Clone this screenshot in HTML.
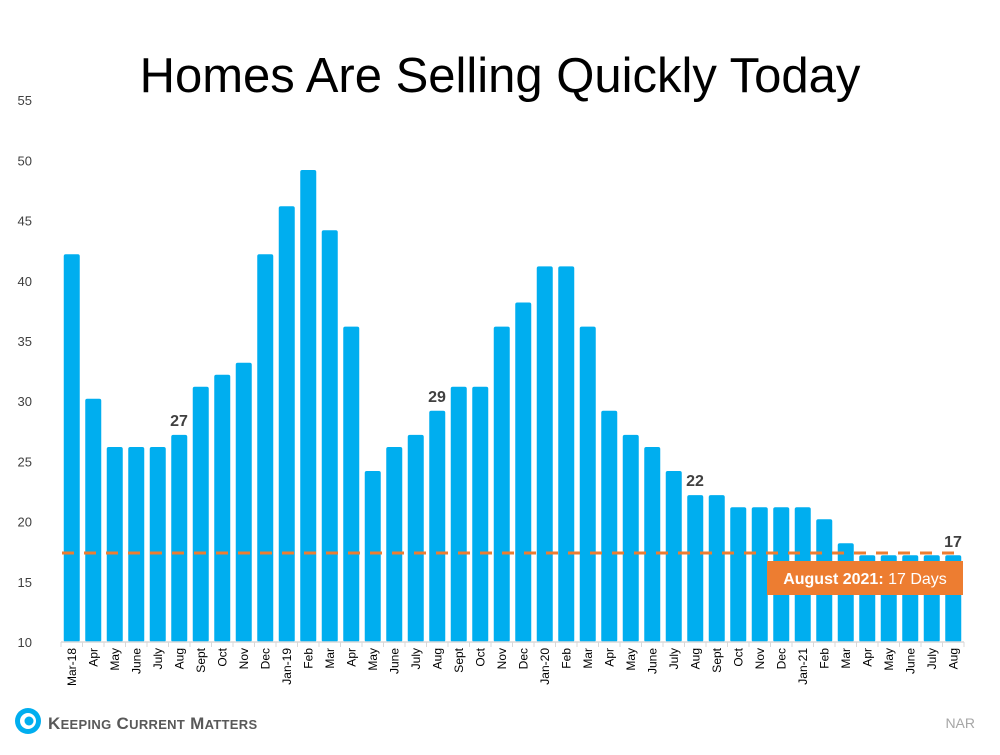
<!DOCTYPE html>
<html><head><meta charset="utf-8"><style>
body{margin:0;background:#fff;}
svg text{font-family:"Liberation Sans",sans-serif;}
</style></head><body>
<svg width="1000" height="750" viewBox="0 0 1000 750" xmlns="http://www.w3.org/2000/svg">
<text x="500" y="92" font-size="49" text-anchor="middle" fill="#000">Homes Are Selling Quickly Today</text>
<g font-size="13" fill="#404040" text-anchor="end" id="yl"></g>
<g fill="#00AEEF">
<rect x="63.75" y="254.3" width="16" height="387.7" rx="2"/>
<rect x="85.25" y="398.8" width="16" height="243.2" rx="2"/>
<rect x="106.75" y="447" width="16" height="195" rx="2"/>
<rect x="128.25" y="447" width="16" height="195" rx="2"/>
<rect x="149.75" y="447" width="16" height="195" rx="2"/>
<rect x="171.25" y="434.9" width="16" height="207.1" rx="2"/>
<rect x="192.75" y="386.8" width="16" height="255.2" rx="2"/>
<rect x="214.25" y="374.7" width="16" height="267.3" rx="2"/>
<rect x="235.75" y="362.7" width="16" height="279.3" rx="2"/>
<rect x="257.25" y="254.3" width="16" height="387.7" rx="2"/>
<rect x="278.75" y="206.2" width="16" height="435.8" rx="2"/>
<rect x="300.25" y="170" width="16" height="472" rx="2"/>
<rect x="321.75" y="230.2" width="16" height="411.8" rx="2"/>
<rect x="343.25" y="326.6" width="16" height="315.4" rx="2"/>
<rect x="364.75" y="471" width="16" height="171" rx="2"/>
<rect x="386.25" y="447" width="16" height="195" rx="2"/>
<rect x="407.75" y="434.9" width="16" height="207.1" rx="2"/>
<rect x="429.25" y="410.8" width="16" height="231.2" rx="2"/>
<rect x="450.75" y="386.8" width="16" height="255.2" rx="2"/>
<rect x="472.25" y="386.8" width="16" height="255.2" rx="2"/>
<rect x="493.75" y="326.6" width="16" height="315.4" rx="2"/>
<rect x="515.25" y="302.5" width="16" height="339.5" rx="2"/>
<rect x="536.75" y="266.4" width="16" height="375.6" rx="2"/>
<rect x="558.25" y="266.4" width="16" height="375.6" rx="2"/>
<rect x="579.75" y="326.6" width="16" height="315.4" rx="2"/>
<rect x="601.25" y="410.8" width="16" height="231.2" rx="2"/>
<rect x="622.75" y="434.9" width="16" height="207.1" rx="2"/>
<rect x="644.25" y="447" width="16" height="195" rx="2"/>
<rect x="665.75" y="471" width="16" height="171" rx="2"/>
<rect x="687.25" y="495.1" width="16" height="146.9" rx="2"/>
<rect x="708.75" y="495.1" width="16" height="146.9" rx="2"/>
<rect x="730.25" y="507.2" width="16" height="134.8" rx="2"/>
<rect x="751.75" y="507.2" width="16" height="134.8" rx="2"/>
<rect x="773.25" y="507.2" width="16" height="134.8" rx="2"/>
<rect x="794.75" y="507.2" width="16" height="134.8" rx="2"/>
<rect x="816.25" y="519.2" width="16" height="122.8" rx="2"/>
<rect x="837.75" y="543.3" width="16" height="98.7" rx="2"/>
<rect x="859.25" y="555.3" width="16" height="86.7" rx="2"/>
<rect x="880.75" y="555.3" width="16" height="86.7" rx="2"/>
<rect x="902.25" y="555.3" width="16" height="86.7" rx="2"/>
<rect x="923.75" y="555.3" width="16" height="86.7" rx="2"/>
<rect x="945.25" y="555.3" width="16" height="86.7" rx="2"/>
</g>
<line x1="61" y1="642" x2="964" y2="642" stroke="#d9d9d9" stroke-width="1.5"/>
<g id="ticks" stroke="#d9d9d9"></g>
<g id="xl" font-size="12" fill="#000"></g>
<line x1="62" y1="553" x2="958" y2="553" stroke="#ED7D31" stroke-width="3" stroke-dasharray="12,10"/>
<rect x="767" y="561" width="196" height="34" fill="#ED7D31"/>
<text x="865" y="584" font-size="16" fill="#fff" text-anchor="middle"><tspan font-weight="bold">August 2021:</tspan> 17 Days</text>
<text x="179" y="426" font-size="16" font-weight="bold" fill="#404040" text-anchor="middle">27</text>
<text x="437" y="402" font-size="16" font-weight="bold" fill="#404040" text-anchor="middle">29</text>
<text x="695" y="486" font-size="16" font-weight="bold" fill="#404040" text-anchor="middle">22</text>
<text x="953" y="547" font-size="16" font-weight="bold" fill="#404040" text-anchor="middle">17</text>
<circle cx="28" cy="721" r="13" fill="#00AEEF"/>
<circle cx="28" cy="721" r="8" fill="#fff"/>
<circle cx="29" cy="721" r="4.5" fill="#00AEEF"/>
<text x="48" y="729" font-size="17" font-weight="bold" fill="#595959" letter-spacing="0.3">K<tspan font-size="13">EEPING</tspan> C<tspan font-size="13">URRENT</tspan> M<tspan font-size="13">ATTERS</tspan></text>
<text x="975" y="728" font-size="14" fill="#a6a6a6" text-anchor="end">NAR</text>
</svg>
<script>
var l=["Mar-18","Apr","May","June","July","Aug","Sept","Oct","Nov","Dec","Jan-19","Feb","Mar","Apr","May","June","July","Aug","Sept","Oct","Nov","Dec","Jan-20","Feb","Mar","Apr","May","June","July","Aug","Sept","Oct","Nov","Dec","Jan-21","Feb","Mar","Apr","May","June","July","Aug"];
var ns="http://www.w3.org/2000/svg";
function el(t,a,p,txt){var e=document.createElementNS(ns,t);for(var k in a)e.setAttribute(k,a[k]);if(txt)e.textContent=txt;document.getElementById(p).appendChild(e);}
var Y=function(x){return 642-(x-10)*12.04;};
for(var t=10;t<=55;t+=5)el("text",{x:32,y:Y(t)+5},"yl",""+t);
for(var i=0;i<42;i++){var c=61+21.5*(i+0.5);
el("line",{x1:61+21.5*i,y1:642,x2:61+21.5*i,y2:647},"ticks");
el("text",{x:0,y:0,transform:"translate("+(c+4)+",648) rotate(-90)","text-anchor":"end"},"xl",l[i]);}
el("line",{x1:964,y1:642,x2:964,y2:647},"ticks");
</script>
</body></html>
